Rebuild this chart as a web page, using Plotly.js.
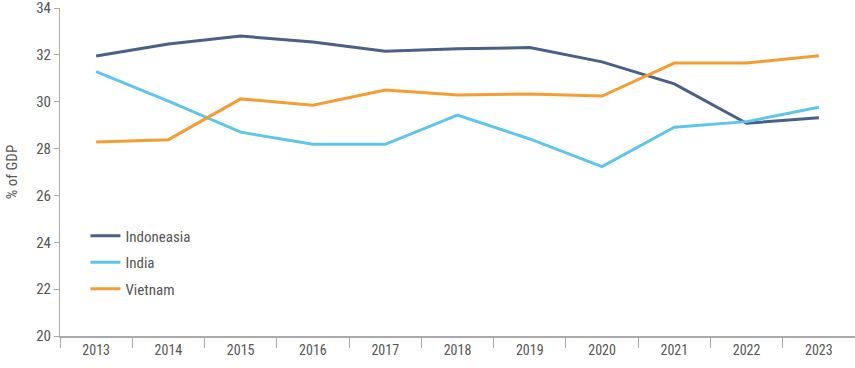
<!DOCTYPE html>
<html>
<head>
<meta charset="utf-8">
<script src="https://cdn.plot.ly/plotly-3.0.1.min.js"></script>
<style>html,body{margin:0;padding:0;background:#fff;}#chart{width:855px;height:368px;}</style>
</head>
<body>
<div id="chart"></div>
<script>
const years = ['2013','2014','2015','2016','2017','2018','2019','2020','2021','2022','2023'];
const indonesia = [31.95, 32.46, 32.8, 32.55, 32.15, 32.26, 32.31, 31.7, 30.76, 29.08, 29.32];
const india = [31.28, 30.03, 28.7, 28.18, 28.18, 29.43, 28.41, 27.23, 28.91, 29.15, 29.76];
const vietnam = [28.28, 28.38, 30.12, 29.85, 30.5, 30.29, 30.33, 30.24, 31.65, 31.65, 31.96];
const seriesNames = ['Indoneasia', 'India', 'Vietnam'];
const yTicks = [20, 22, 24, 26, 28, 30, 32, 34];
const colors = ['#4a5f8a', '#5ec6ec', '#f59d33'];
const fontFam = '"Roboto Condensed", Roboto, sans-serif';

const traces = [indonesia, india, vietnam].map((vals, i) => ({
  x: years, y: vals, type: 'scatter', mode: 'lines', name: seriesNames[i],
  line: {color: colors[i], width: 3}, legendgroup: 'g' + i
}));

const layout = {
  width: 855, height: 368,
  margin: {l: 60, r: 0, t: 8, b: 32},
  paper_bgcolor: '#fff', plot_bgcolor: '#fff',
  font: {family: fontFam, size: 14, color: '#555'},
  showlegend: true,
  legend: {x: 0.032, y: 0.355, xanchor: 'left', yanchor: 'top', bgcolor: 'rgba(0,0,0,0)',
    font: {family: fontFam, size: 15, color: '#555'}, traceorder: 'grouped', tracegroupgap: 4},
  xaxis: {type: 'category', range: [-0.5, 10.5], showline: true, linecolor: '#aaa', linewidth: 2,
    ticks: 'outside', tickson: 'boundaries', ticklen: 10, tickcolor: '#aaa', tickwidth: 1,
    showgrid: false, zeroline: false, tickfont: {size: 14, color: '#555'}},
  yaxis: {range: [20, 34], tickmode: 'array', tickvals: yTicks, ticktext: yTicks.map(String),
    showline: true, linecolor: '#aaa', linewidth: 1, ticklabeloverflow: 'allow',
    ticks: 'outside', ticklen: 5, tickcolor: '#aaa', showgrid: false, zeroline: false,
    tickfont: {size: 15, color: '#555'}, automargin: false,
    title: {text: '% of GDP', font: {size: 15, color: '#555'}, standoff: 14}}
};

Plotly.newPlot('chart', traces, layout, {displayModeBar: false, staticPlot: true});
</script>
</body>
</html>
